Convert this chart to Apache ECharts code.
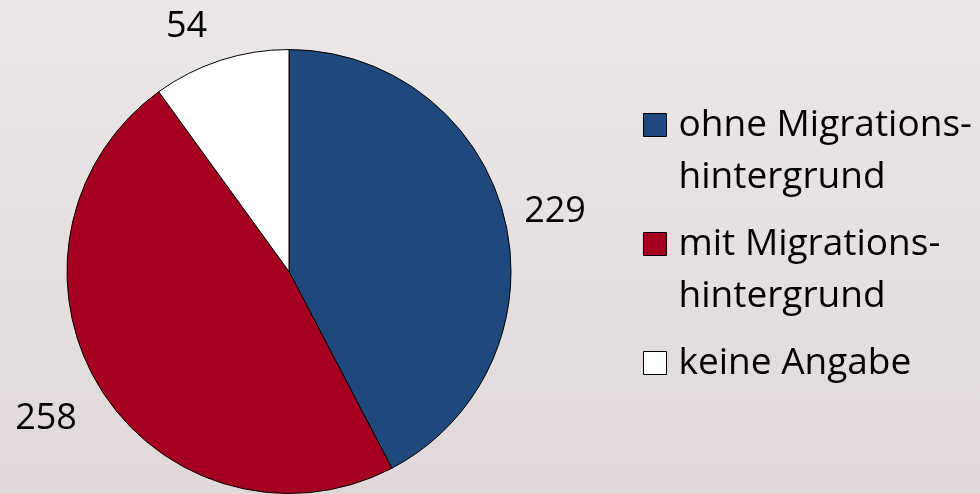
<!DOCTYPE html>
<html>
<head>
<meta charset="utf-8">
<script src="https://cdn.jsdelivr.net/npm/echarts@6/dist/echarts.min.js"></script>
<style>
  html, body { margin: 0; padding: 0; }
  #chart { width: 980px; height: 494px; }
</style>
</head>
<body>
<div id="chart"></div>
<script>
// Kategorien und Werte
const categories = ['ohne Migrations-\nhintergrund', 'mit Migrations-\nhintergrund', 'keine Angabe']
const values = [229, 258, 54]
const colors = ['#1f497d', '#a50021', '#ffffff']

const FONT = '"Open Sans"'

const pieData = categories.map((name, i) => ({
  name: name,
  value: values[i],
  itemStyle: { color: colors[i] }
}))

// kleine Verschiebungen der Wertebeschriftung (wie in Excel gesetzt)
const labelShift = (p) => {
  if (p.dataIndex === 2) return { dx: -18, dy: 16 }
  if (p.dataIndex === 1) return { dx: -10, dy: 3 }
  return { dy: 6 }
}

const chart = echarts.init(document.getElementById('chart'))

chart.setOption({
  animation: false,
  backgroundColor: {
    type: 'linear', x: 0, y: 0, x2: 0, y2: 1,
    colorStops: [
      { offset: 0, color: '#ece8e8' },
      { offset: 1, color: '#e0d8d8' }
    ]
  },
  textStyle: { fontFamily: FONT },
  legend: {
    orient: 'vertical',
    left: 643,
    top: 47,
    padding: 0,
    itemWidth: 23,
    itemHeight: 23,
    itemGap: -37,
    icon: 'rect',
    selectedMode: false,
    itemStyle: { borderColor: '#000', borderWidth: 1 },
    // leere Zeilen, damit die erste Textzeile neben dem Symbol steht
    formatter: (name) => '\n' + name + (name.indexOf('\n') >= 0 ? '' : '\n'),
    textStyle: { fontFamily: FONT, fontSize: 37, color: '#000', lineHeight: 52, padding: [0, 0, 0, 7] },
    data: categories
  },
  series: [
    {
      type: 'pie',
      center: [289, 271.5],
      radius: [0, 222],
      startAngle: 90,
      clockwise: true,
      silent: true,
      itemStyle: { borderColor: '#000', borderWidth: 1 },
      label: { show: false },
      labelLine: { show: false },
      data: pieData
    },
    {
      // unsichtbarer Ring nur für die Wertebeschriftung
      type: 'pie',
      center: [289, 271.5],
      radius: [250, 292],
      startAngle: 90,
      clockwise: true,
      silent: true,
      itemStyle: { color: 'transparent', borderWidth: 0 },
      label: {
        show: true,
        position: 'inside',
        formatter: '{c}',
        fontFamily: FONT,
        fontSize: 36,
        color: '#000'
      },
      labelLine: { show: false },
      labelLayout: labelShift,
      data: pieData.map((d) => ({ name: d.name, value: d.value }))
    }
  ]
})
</script>
</body>
</html>
